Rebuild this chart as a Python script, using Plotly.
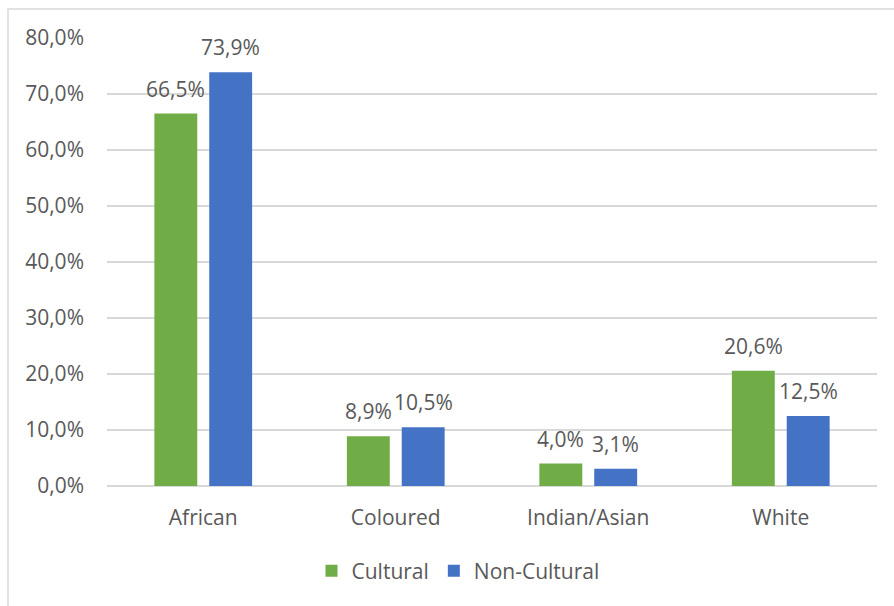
import plotly.graph_objects as go

categories = ["African", "Coloured", "Indian/Asian", "White"]
cultural = [66.5, 8.9, 4.0, 20.6]
non_cultural = [73.9, 10.5, 3.1, 12.5]
series_names = ["Cultural", "Non-Cultural"]
y_ticks = [0, 10, 20, 30, 40, 50, 60, 70, 80]


def pct(v):
    return f"{v:.1f}".replace(".", ",") + "%"


GREEN = "#70AD47"
BLUE = "#4472C4"
TXT = "#595959"
FONT = "Open Sans"
FS = 21

W, H = 894, 606
L, R, T, B = 107, 17, 38, 120

fig = go.Figure()
fig.add_bar(x=categories, y=cultural, name=series_names[0], marker_color=GREEN,
            marker_line_width=0)
fig.add_bar(x=categories, y=non_cultural, name=series_names[1], marker_color=BLUE,
            marker_line_width=0)

pw = W - L - R
slot = pw / len(categories) * (1 - 0.43) / 2
for vals, sign in ((cultural, -1), (non_cultural, 1)):
    for c, v in zip(categories, vals):
        fig.add_annotation(x=c, y=v, xref="x", yref="y", text=pct(v),
                           showarrow=False, yanchor="bottom", xanchor="center",
                           xshift=sign * slot / 2, yshift=9,
                           font=dict(family=FONT, size=FS, color=TXT))

# chart border
ph = H - T - B
fig.add_shape(type="rect", xref="paper", yref="paper",
              x0=(8 - L) / pw, x1=1 + (R + 5) / pw,
              y0=-(B + 5) / ph, y1=1 + (T - 9) / ph,
              line=dict(color="#D9D9D9", width=1.5), layer="below")

fig.update_layout(
    width=W, height=H,
    margin=dict(l=L, r=R, t=T, b=B),
    paper_bgcolor="white", plot_bgcolor="white",
    barmode="group", bargap=0.43, bargroupgap=0.218,
    font=dict(family=FONT, size=FS, color=TXT),
    showlegend=True,
    legend=dict(orientation="h", x=(458 - L) / pw, xanchor="center",
                y=(486 - 571) / ph, yanchor="middle",
                font=dict(family=FONT, size=FS, color=TXT), itemwidth=30),
    xaxis=dict(showgrid=False, showline=False, zeroline=False, ticks="",
               ticklabelstandoff=17, tickfont=dict(family=FONT, size=FS, color=TXT)),
    yaxis=dict(range=[0, 80], tickvals=y_ticks, ticktext=[pct(v) for v in y_ticks],
               showgrid=True, gridcolor="#D9D9D9", gridwidth=1.5,
               zeroline=True, zerolinecolor="#D9D9D9", zerolinewidth=1.5,
               showline=False, ticks="", ticklabelstandoff=22,
               tickfont=dict(family=FONT, size=FS, color=TXT)),
)

fig.write_html("out.html")
